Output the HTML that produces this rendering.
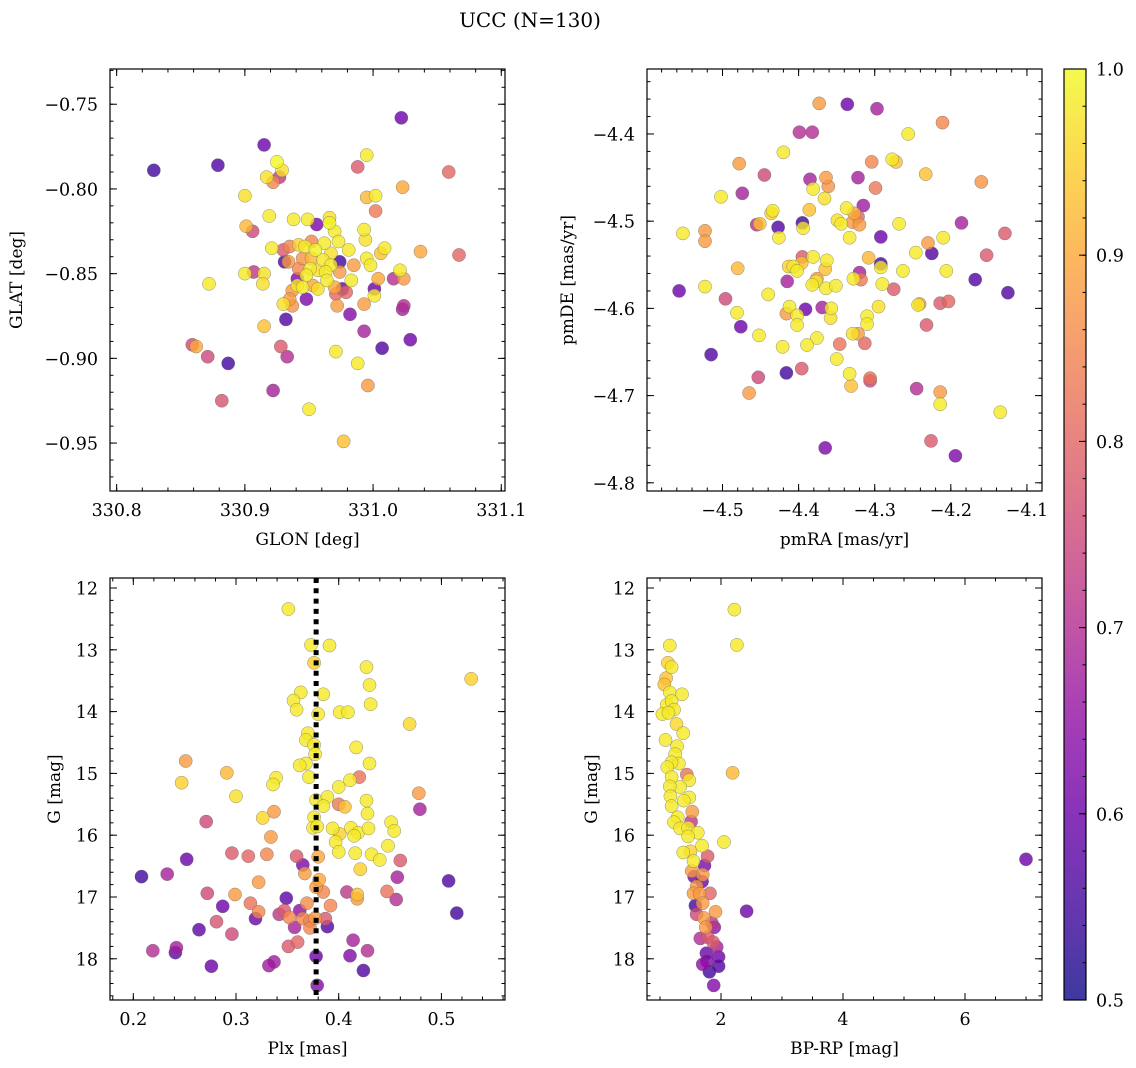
<!DOCTYPE html>
<html><head><meta charset="utf-8">
<style>
html,body{margin:0;padding:0;background:#fff;}
svg{display:block;font-family:"DejaVu Serif","Liberation Serif",serif;}
</style></head>
<body>
<svg id="fig" width="1136" height="1068" viewBox="0 0 1136 1068" xmlns="http://www.w3.org/2000/svg">
<defs>
<linearGradient id="cbgrad" x1="0" y1="1" x2="0" y2="0">
<stop offset="0" stop-color="#0d0887"/><stop offset="0.1" stop-color="#41049d"/><stop offset="0.2" stop-color="#6a00a8"/><stop offset="0.3" stop-color="#8f0da4"/><stop offset="0.4" stop-color="#b12a90"/><stop offset="0.5" stop-color="#cc4778"/><stop offset="0.6" stop-color="#e16462"/><stop offset="0.7" stop-color="#f2844b"/><stop offset="0.8" stop-color="#fca636"/><stop offset="0.9" stop-color="#fcce25"/><stop offset="1" stop-color="#f0f921"/>
</linearGradient>
</defs>
<text x="530" y="27" font-size="20" text-anchor="middle">UCC (N=130)</text>
<g id="panels"></g>
<g>
<rect x="1064" y="69" width="22" height="931" fill="url(#cbgrad)" opacity="0.8"/>
<rect x="1064" y="69" width="22" height="931" fill="none" stroke="#000" stroke-width="1.2"/>
<g id="cbticks"></g>
</g>
</svg>
<script>
// ---- Panel 1: GLON / GLAT ----
const p1x=[330.829,330.879,330.915,331.022,330.925,330.929,330.927,330.922,330.917,330.900,330.988,330.995,331.059,331.023,330.995,331.002,331.002,330.919,330.938,330.949,330.956,330.966,330.966,330.970,330.901,330.906,330.993,330.994,330.973,330.921,330.930,330.935,330.942,330.947,330.952,330.962,330.955,330.967,330.981,331.009,331.006,331.037,331.067,330.931,330.934,330.945,330.952,330.961,330.974,330.967,330.985,330.995,330.998,330.951,330.942,330.957,330.963,330.974,330.900,330.907,330.915,330.914,330.872,330.941,330.948,330.964,330.983,331.004,331.016,331.024,331.021,330.941,330.945,330.953,330.957,330.970,330.976,330.979,330.971,331.001,331.001,330.937,330.935,330.930,330.937,330.948,330.972,330.993,330.982,331.024,331.023,330.932,330.915,330.993,331.029,331.007,330.859,330.862,330.871,330.928,330.933,330.887,330.971,330.988,330.996,330.922,330.882,330.950,330.977];
const p1y=[-0.789,-0.786,-0.774,-0.758,-0.784,-0.789,-0.793,-0.796,-0.793,-0.804,-0.787,-0.780,-0.790,-0.799,-0.805,-0.804,-0.813,-0.816,-0.818,-0.818,-0.821,-0.817,-0.820,-0.825,-0.822,-0.825,-0.824,-0.830,-0.831,-0.835,-0.836,-0.834,-0.833,-0.834,-0.831,-0.832,-0.836,-0.838,-0.836,-0.835,-0.838,-0.837,-0.839,-0.843,-0.843,-0.841,-0.841,-0.842,-0.843,-0.845,-0.845,-0.841,-0.845,-0.847,-0.847,-0.848,-0.849,-0.849,-0.850,-0.849,-0.850,-0.856,-0.856,-0.853,-0.851,-0.854,-0.854,-0.853,-0.853,-0.853,-0.848,-0.857,-0.858,-0.857,-0.859,-0.858,-0.859,-0.861,-0.862,-0.859,-0.863,-0.860,-0.865,-0.868,-0.869,-0.865,-0.869,-0.868,-0.874,-0.869,-0.871,-0.877,-0.881,-0.884,-0.889,-0.894,-0.892,-0.893,-0.899,-0.893,-0.899,-0.903,-0.896,-0.903,-0.916,-0.919,-0.925,-0.930,-0.949];
const p1c=[0.55,0.57,0.6,0.6,1.0,0.97,0.72,0.85,0.97,0.97,0.78,0.98,0.8,0.9,0.92,0.98,0.83,0.98,0.98,0.98,0.62,0.97,0.99,0.98,0.92,0.75,0.98,0.97,0.98,0.98,0.78,0.85,0.95,0.98,0.85,0.98,0.99,0.97,0.98,0.98,0.93,0.9,0.8,0.57,0.88,0.87,0.92,0.98,0.55,0.98,0.88,0.98,0.98,0.98,0.85,0.97,0.98,0.88,0.98,0.72,0.97,0.97,0.98,0.62,0.98,0.98,0.98,0.9,0.7,0.88,0.98,0.98,0.98,0.9,0.97,0.9,0.6,0.8,0.8,0.6,0.98,0.88,0.88,0.97,0.87,0.62,0.88,0.88,0.63,0.7,0.68,0.57,0.93,0.68,0.6,0.57,0.75,0.9,0.75,0.78,0.7,0.55,0.98,0.98,0.88,0.68,0.77,0.98,0.93];

// ---- Panel 2: pmRA / pmDE ----
const p2x=[-4.373,-4.336,-4.297,-4.211,-4.399,-4.382,-4.256,-4.420,-4.478,-4.304,-4.277,-4.272,-4.233,-4.160,-4.445,-4.385,-4.364,-4.361,-4.322,-4.299,-4.502,-4.474,-4.381,-4.366,-4.315,-4.337,-4.386,-4.436,-4.434,-4.327,-4.322,-4.349,-4.344,-4.329,-4.320,-4.268,-4.186,-4.129,-4.552,-4.523,-4.523,-4.455,-4.451,-4.427,-4.426,-4.395,-4.394,-4.333,-4.292,-4.210,-4.230,-4.246,-4.225,-4.153,-4.395,-4.381,-4.363,-4.308,-4.292,-4.292,-4.480,-4.413,-4.407,-4.396,-4.402,-4.365,-4.263,-4.206,-4.320,-4.318,-4.328,-4.168,-4.415,-4.376,-4.377,-4.382,-4.364,-4.351,-4.290,-4.275,-4.557,-4.523,-4.125,-4.496,-4.440,-4.412,-4.416,-4.402,-4.402,-4.391,-4.369,-4.357,-4.358,-4.295,-4.241,-4.243,-4.214,-4.203,-4.481,-4.310,-4.310,-4.232,-4.476,-4.452,-4.376,-4.389,-4.421,-4.346,-4.329,-4.322,-4.313,-4.350,-4.515,-4.396,-4.416,-4.333,-4.331,-4.306,-4.306,-4.453,-4.465,-4.245,-4.214,-4.214,-4.135,-4.226,-4.365,-4.194];
const p2y=[-4.365,-4.366,-4.371,-4.387,-4.398,-4.398,-4.400,-4.421,-4.434,-4.432,-4.429,-4.432,-4.446,-4.455,-4.447,-4.452,-4.450,-4.460,-4.450,-4.462,-4.472,-4.468,-4.463,-4.474,-4.482,-4.485,-4.487,-4.491,-4.488,-4.491,-4.495,-4.499,-4.503,-4.501,-4.504,-4.503,-4.502,-4.514,-4.514,-4.511,-4.523,-4.504,-4.503,-4.507,-4.519,-4.502,-4.508,-4.519,-4.518,-4.519,-4.525,-4.536,-4.537,-4.539,-4.541,-4.541,-4.545,-4.542,-4.549,-4.553,-4.554,-4.552,-4.552,-4.548,-4.557,-4.555,-4.557,-4.557,-4.559,-4.567,-4.566,-4.567,-4.569,-4.566,-4.569,-4.573,-4.577,-4.574,-4.572,-4.578,-4.580,-4.575,-4.582,-4.589,-4.584,-4.598,-4.606,-4.608,-4.619,-4.601,-4.599,-4.600,-4.611,-4.598,-4.595,-4.596,-4.594,-4.592,-4.605,-4.609,-4.618,-4.619,-4.621,-4.631,-4.634,-4.642,-4.644,-4.641,-4.629,-4.629,-4.640,-4.658,-4.653,-4.669,-4.674,-4.675,-4.689,-4.683,-4.680,-4.679,-4.697,-4.692,-4.696,-4.710,-4.719,-4.752,-4.760,-4.769];
const p2c=[0.88,0.6,0.68,0.85,0.7,0.7,0.98,0.98,0.88,0.85,0.98,0.93,0.93,0.87,0.75,0.68,0.88,0.87,0.68,0.83,0.98,0.68,0.98,0.97,0.67,0.98,0.93,0.95,0.98,0.9,0.8,0.97,0.98,0.88,0.88,0.98,0.68,0.78,0.98,0.88,0.88,0.7,0.93,0.57,0.98,0.55,0.98,0.98,0.6,0.98,0.88,0.98,0.57,0.78,0.78,0.98,0.98,0.92,0.55,0.98,0.92,0.95,0.98,0.93,0.98,0.93,0.98,0.98,0.68,0.83,0.98,0.57,0.68,0.88,0.98,0.98,0.98,0.98,0.98,0.78,0.6,0.98,0.57,0.75,0.98,0.98,0.88,0.98,0.98,0.6,0.68,0.98,0.97,0.97,0.88,0.98,0.78,0.8,0.98,0.98,0.98,0.78,0.6,0.98,0.98,0.98,0.98,0.82,0.97,0.88,0.8,0.98,0.57,0.78,0.55,0.98,0.93,0.75,0.82,0.75,0.88,0.7,0.88,0.98,0.98,0.78,0.62,0.62];

// ---- Panel 3: Plx / G ----
const p3x=[0.351,0.373,0.391,0.376,0.427,0.529,0.430,0.363,0.385,0.356,0.359,0.431,0.380,0.401,0.409,0.469,0.370,0.368,0.376,0.417,0.377,0.368,0.362,0.430,0.251,0.371,0.247,0.291,0.339,0.336,0.420,0.411,0.400,0.300,0.478,0.479,0.378,0.389,0.385,0.400,0.406,0.427,0.428,0.271,0.326,0.337,0.376,0.375,0.379,0.394,0.401,0.412,0.419,0.415,0.429,0.451,0.454,0.334,0.397,0.400,0.448,0.416,0.432,0.440,0.380,0.421,0.460,0.296,0.312,0.330,0.359,0.365,0.252,0.208,0.233,0.367,0.381,0.322,0.457,0.507,0.515,0.272,0.299,0.378,0.385,0.408,0.418,0.418,0.447,0.456,0.287,0.314,0.349,0.369,0.392,0.322,0.319,0.342,0.347,0.362,0.352,0.365,0.372,0.377,0.387,0.372,0.357,0.389,0.281,0.264,0.296,0.414,0.351,0.360,0.219,0.241,0.242,0.378,0.411,0.428,0.332,0.337,0.276,0.424,0.379];
const p3y=[12.34,12.92,12.93,13.21,13.28,13.47,13.57,13.69,13.72,13.82,13.97,13.88,14.04,14.01,14.01,14.20,14.35,14.46,14.54,14.58,14.69,14.84,14.87,14.84,14.80,15.06,15.15,14.99,15.07,15.18,15.06,15.11,15.22,15.37,15.32,15.58,15.43,15.38,15.53,15.50,15.54,15.44,15.65,15.78,15.72,15.62,15.71,15.88,15.86,15.89,15.98,15.88,15.96,16.01,15.89,15.79,15.93,16.03,16.11,16.27,16.17,16.29,16.31,16.40,16.35,16.55,16.41,16.29,16.34,16.31,16.34,16.48,16.39,16.67,16.63,16.62,16.72,16.76,16.68,16.74,17.26,16.94,16.96,16.84,16.92,16.92,16.96,17.03,16.91,17.04,17.15,17.10,17.02,17.10,17.14,17.24,17.35,17.28,17.22,17.22,17.33,17.35,17.39,17.34,17.35,17.50,17.49,17.48,17.40,17.53,17.60,17.70,17.80,17.73,17.87,17.90,17.82,17.96,17.95,17.87,18.11,18.05,18.12,18.19,18.43];
const p3c=[0.98,0.98,0.98,0.95,0.98,0.95,0.98,0.98,0.98,0.98,0.98,0.98,0.98,0.98,0.98,0.96,0.98,0.98,0.98,0.98,0.98,0.98,0.98,0.98,0.88,0.98,0.95,0.92,0.98,0.98,0.82,0.98,0.98,0.97,0.88,0.68,0.98,0.98,0.98,0.83,0.93,0.98,0.98,0.75,0.96,0.88,0.98,0.98,0.98,0.98,0.95,0.98,0.98,0.98,0.98,0.98,0.98,0.88,0.98,0.98,0.98,0.98,0.98,0.98,0.9,0.95,0.78,0.78,0.8,0.85,0.78,0.62,0.6,0.55,0.68,0.88,0.9,0.88,0.68,0.57,0.55,0.75,0.88,0.88,0.85,0.72,0.93,0.88,0.82,0.7,0.6,0.82,0.58,0.86,0.85,0.85,0.6,0.72,0.78,0.65,0.85,0.85,0.85,0.88,0.78,0.85,0.68,0.57,0.77,0.58,0.75,0.68,0.78,0.8,0.7,0.58,0.68,0.6,0.63,0.7,0.67,0.67,0.6,0.57,0.63];
const plxLine=0.378;

// ---- Panel 4: BP-RP / G ----
const p4x=[2.22,2.26,1.16,1.13,1.19,1.10,1.07,1.16,1.36,1.11,1.19,1.23,1.04,1.14,1.27,1.38,1.09,1.28,1.25,1.31,1.19,1.12,2.19,1.44,1.48,1.19,1.33,1.16,1.48,1.17,1.19,1.39,1.53,1.29,1.51,1.23,1.33,1.46,1.62,1.46,2.05,1.69,1.38,1.50,1.78,1.73,1.55,1.52,1.56,1.70,1.69,1.60,1.82,1.55,1.65,1.70,1.58,1.91,2.42,1.60,1.72,1.85,1.75,1.89,1.66,1.78,1.87,1.93,1.76,1.96,1.70,1.77,1.96,1.81,1.88,7.0];
const p4y=[12.35,12.92,12.93,13.21,13.28,13.46,13.56,13.69,13.72,13.89,13.83,13.97,14.04,14.02,14.20,14.35,14.46,14.56,14.69,14.84,14.82,14.90,14.99,15.02,15.11,15.06,15.22,15.21,15.39,15.37,15.53,15.44,15.62,15.71,15.78,15.79,15.89,15.88,15.96,16.02,16.11,16.17,16.28,16.26,16.34,16.49,16.42,16.58,16.67,16.64,16.75,16.83,16.94,16.94,16.95,17.10,17.14,17.24,17.23,17.28,17.34,17.42,17.49,17.49,17.67,17.65,17.73,17.81,17.91,17.97,18.09,18.04,18.12,18.21,18.43,16.39];
const p4c=[0.98,0.98,0.98,0.95,0.98,0.93,0.93,0.98,0.98,0.98,0.98,0.98,0.98,0.98,0.96,0.98,0.98,0.98,0.98,0.98,0.98,0.98,0.92,0.82,0.98,0.98,0.98,0.98,0.98,0.98,0.98,0.98,0.88,0.98,0.72,0.98,0.98,0.98,0.98,0.98,0.98,0.98,0.98,0.95,0.78,0.62,0.98,0.88,0.6,0.88,0.6,0.88,0.8,0.88,0.88,0.88,0.55,0.88,0.6,0.75,0.88,0.72,0.88,0.65,0.7,0.78,0.78,0.68,0.6,0.6,0.65,0.62,0.57,0.55,0.63,0.6];

// colorbar
const cbTicks=[0.5,0.6,0.7,0.8,0.9,1.0];
const cbMin=0.5, cbMax=1.0;

const NS="http://www.w3.org/2000/svg";
const plasma=[[13,8,135],[65,4,157],[106,0,168],[143,13,164],[177,42,144],[204,71,120],[225,100,98],[242,132,75],[252,166,54],[252,206,37],[240,249,33]];
function cmap(v){
  let t=(v-cbMin)/(cbMax-cbMin); t=Math.max(0,Math.min(1,t));
  const f=t*10, i=Math.min(9,Math.floor(f)), r=f-i;
  const a=plasma[i], b=plasma[i+1];
  return 'rgb('+a.map((x,k)=>Math.round(x+(b[k]-x)*r)).join(',')+')';
}
function mk(tag,attrs,parent){const e=document.createElementNS(NS,tag);for(const k in attrs)e.setAttribute(k,attrs[k]);parent.appendChild(e);return e;}
function fmt(v,d){let s=v.toFixed(d);return s.replace('-','\u2212');}

const panels=[
 {name:'glon-glat',box:[110,69,505,491],xd:[330.7948,331.1029],yd:[-0.7292,-0.9783],xs:[330.8,330.9,331.0,331.1],xd2:1,xm:0.02,ys:[-0.75,-0.80,-0.85,-0.90,-0.95],yd2:2,ym:0.01,xl:'GLON [deg]',yl:'GLAT [deg]',ylx:22,X:p1x,Y:p1y,C:p1c},
 {name:'pmra-pmde',box:[647,69,1042,491],xd:[-4.5992,-4.0802],yd:[-4.3255,-4.8094],xs:[-4.5,-4.4,-4.3,-4.2,-4.1],xd2:1,xm:0.02,ys:[-4.4,-4.5,-4.6,-4.7,-4.8],yd2:1,ym:0.02,xl:'pmRA [mas/yr]',yl:'pmDE [mas/yr]',ylx:573,X:p2x,Y:p2y,C:p2c},
 {name:'plx-g',box:[110,578,505,1000],xd:[0.1773,0.5619],yd:[11.838,18.667],xs:[0.2,0.3,0.4,0.5],xd2:1,xm:0.02,ys:[12,13,14,15,16,17,18],yd2:0,ym:0.2,xl:'Plx [mas]',yl:'G [mag]',ylx:60,X:p3x,Y:p3y,C:p3c,vline:plxLine},
 {name:'bprp-g',box:[647,578,1042,1000],xd:[0.787,7.262],yd:[11.838,18.667],xs:[2,4,6],xd2:0,xm:0.5,ys:[12,13,14,15,16,17,18],yd2:0,ym:0.2,xl:'BP-RP [mag]',yl:'G [mag]',ylx:597,X:p4x,Y:p4y,C:p4c}
];
const root=document.getElementById('panels');
panels.forEach(p=>{
  const [x0,y0,x1,y1]=p.box;
  const sx=v=>x0+(v-p.xd[0])/(p.xd[1]-p.xd[0])*(x1-x0);
  const sy=v=>y0+(v-p.yd[0])/(p.yd[1]-p.yd[0])*(y1-y0);
  const g=mk('g',{},root);
  
  
  const pts=mk('g',{},g);
  
  
  const order=p.X.map((_,i)=>i).sort((a,b)=>p.C[a]-p.C[b]);
  order.forEach(i=>{
    const c=mk('circle',{cx:sx(p.X[i]).toFixed(1),cy:sy(p.Y[i]).toFixed(1),r:6.6,fill:cmap(p.C[i]),'fill-opacity':0.8,stroke:'#666','stroke-width':0.5,'stroke-opacity':0.7},pts);
    
    
  });
  if(p.vline!==undefined){
    const l=mk('line',{x1:sx(p.vline),x2:sx(p.vline),y1:y0,y2:y1,stroke:'#000','stroke-width':5,'stroke-dasharray':'5,5.3'},g);
    
    
  }
  const fr=mk('rect',{x:x0,y:y0,width:x1-x0,height:y1-y0,fill:'none',stroke:'#000','stroke-width':1.2},g);
  
  
  const tk=mk('g',{stroke:'#000','stroke-width':1},g);
  
  
  const xlo=Math.min(...p.xd),xhi=Math.max(...p.xd);
  for(let v=Math.ceil(xlo/p.xm)*p.xm; v<=xhi; v+=p.xm){const X=sx(v);mk('line',{x1:X,x2:X,y1:y1,y2:y1-3.5},tk);mk('line',{x1:X,x2:X,y1:y0,y2:y0+3.5},tk);}
  const ylo=Math.min(...p.yd),yhi=Math.max(...p.yd);
  for(let v=Math.ceil(ylo/p.ym)*p.ym; v<=yhi; v+=p.ym){const Y=sy(v);mk('line',{x1:x0,x2:x0+3.5,y1:Y,y2:Y},tk);mk('line',{x1:x1,x2:x1-3.5,y1:Y,y2:Y},tk);}
  p.xs.forEach(v=>{const X=sx(v);mk('line',{x1:X,x2:X,y1:y1,y2:y1-7},tk);mk('line',{x1:X,x2:X,y1:y0,y2:y0+7},tk);
    const t=mk('text',{x:X,y:y1+25,'font-size':17.5,'text-anchor':'middle'},g);t.textContent=fmt(v,p.xd2);
    
    });
  p.ys.forEach(v=>{const Y=sy(v);mk('line',{x1:x0,x2:x0+7,y1:Y,y2:Y},tk);mk('line',{x1:x1,x2:x1-7,y1:Y,y2:Y},tk);
    const t=mk('text',{x:x0-12,y:Y+6.5,'font-size':17.5,'text-anchor':'end'},g);t.textContent=fmt(v,p.yd2);
    
    });
  const xt=mk('text',{x:(x0+x1)/2,y:y1+54,'font-size':17,'text-anchor':'middle'},g);xt.textContent=p.xl;
  
  
  const cy=(y0+y1)/2;
  const yt=mk('text',{x:p.ylx,y:cy,'font-size':17,'text-anchor':'middle',transform:'rotate(-90 '+p.ylx+' '+cy+')'},g);yt.textContent=p.yl;
  
  
});
const cbg=document.getElementById('cbticks');
const cby=v=>1000-(v-cbMin)/(cbMax-cbMin)*931;
for(let v=cbMin; v<=cbMax+1e-9; v+=0.02){const Y=cby(v);mk('line',{x1:1086,x2:1082.5,y1:Y,y2:Y,stroke:'#000','stroke-width':1},cbg);}
cbTicks.forEach(v=>{const Y=cby(v);mk('line',{x1:1086,x2:1079,y1:Y,y2:Y,stroke:'#000','stroke-width':1},cbg);
  const t=mk('text',{x:1096,y:Y+6.5,'font-size':17.5},cbg);t.textContent=v.toFixed(1);
  
  });
</script>
</body></html>
